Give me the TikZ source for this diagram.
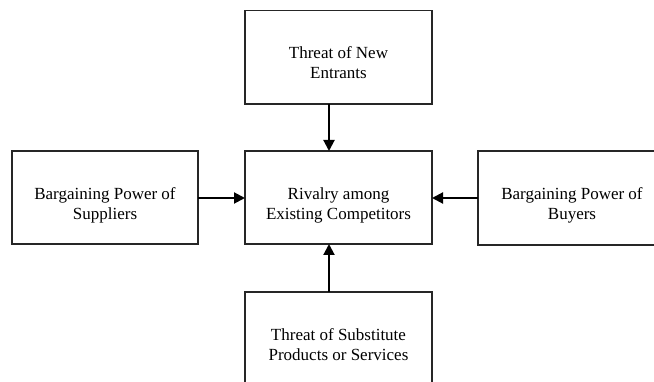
\documentclass[tikz,border=0pt]{standalone}
\usepackage{fontspec}
\setmainfont{Liberation Serif}
\usetikzlibrary{arrows.meta}
\begin{document}
\begin{tikzpicture}[x=1pt,y=-1pt,
  force/.style={draw=black!85, line width=1.3pt, fill=white},
  label/.style={align=center, font=\fontsize{17}{20}\selectfont},
  push/.style={line width=2pt, -{Triangle[length=11pt,width=11pt]}}]
\useasboundingbox (0,0) rectangle (654,382);
\clip (0,0) rectangle (654,382);

% five forces as boxes
\draw[force] (245,10.7) rectangle (432,104);
\draw[force] (12,151) rectangle (198,244);
\draw[force] (245,151) rectangle (432,244);
\draw[force] (478,151) rectangle (666,245);
\draw[force] (245,292) rectangle (432,385);

% box anchors for the connectors
\coordinate (topB) at (329,104);
\coordinate (ctrT) at (329,151);
\coordinate (leftR) at (198,198);
\coordinate (ctrL) at (245,198);
\coordinate (rightL) at (478,198);
\coordinate (ctrR) at (432,198);
\coordinate (botT) at (329,292);
\coordinate (ctrB) at (329,244);

% labels
\node[label] (entrants) at (338.5,63) {Threat of New\\Entrants};
\node[label] (suppliers) at (105,205.5) {Bargaining Power of\\Suppliers};
\node[label] (rivalry) at (338.5,205.5) {Rivalry among\\Existing Competitors};
\node[label] (buyers) at (572,205.5) {Bargaining Power of\\Buyers};
\node[label] (substitutes) at (338.5,345) {Threat of Substitute\\Products or Services};

% pressures acting on the industry rivalry
\draw[push] (topB) -- (ctrT);
\draw[push] (leftR) -- (ctrL);
\draw[push] (rightL) -- (ctrR);
\draw[push] (botT) -- (ctrB);
\end{tikzpicture}
\end{document}
